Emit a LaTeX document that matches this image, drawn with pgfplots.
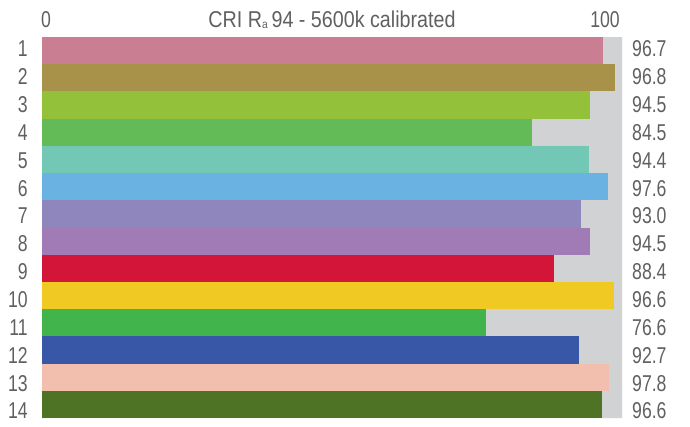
\documentclass[border=0pt]{standalone}
\usepackage{fontspec}
\setmainfont{Liberation Sans}[FakeStretch=0.86]
\newfontfamily\numfont{Liberation Sans}[FakeStretch=0.77]
\usepackage{pgfplots}
\pgfplotsset{compat=1.18}
\definecolor{txt}{HTML}{606060}
\definecolor{grayb}{HTML}{D1D2D4}
\definecolor{c1}{HTML}{C97F91}
\definecolor{c2}{HTML}{A8924A}
\definecolor{c3}{HTML}{93C23A}
\definecolor{c4}{HTML}{62BB56}
\definecolor{c5}{HTML}{72C8B4}
\definecolor{c6}{HTML}{6AB2E2}
\definecolor{c7}{HTML}{8F86BE}
\definecolor{c8}{HTML}{A17BB5}
\definecolor{c9}{HTML}{D4153A}
\definecolor{c10}{HTML}{F0CA22}
\definecolor{c11}{HTML}{41B54C}
\definecolor{c12}{HTML}{3857A7}
\definecolor{c13}{HTML}{F2BFAE}
\definecolor{c14}{HTML}{4E7324}
\begin{document}
\begin{tikzpicture}
\pgfplotsset{base/.style={width=580bp,height=381bp,scale only axis,
  xmin=0,xmax=100,ymin=0.5,ymax=14.5,y dir=reverse,
  axis line style={draw=none}, tick style={draw=none}, major tick length=0pt,
  xtick=\empty,
  ytick={0.941,1.964,2.988,4.011,5.035,6.058,7.081,8.105,9.128,10.152,11.175,12.198,13.222,14.245},
  ticklabel style={font=\numfont\fontsize{23}{23}\selectfont, text=txt, inner sep=0pt},
  /pgf/number format/assume math mode=true,
  xbar, bar width=1, enlargelimits=false, clip=false}}
\begin{axis}[base, yticklabel style={anchor=east, xshift=-14bp},
  yticklabels={1,2,3,4,5,6,7,8,9,10,11,12,13,14}]
\addplot[fill=grayb, draw=none, bar shift=0pt] coordinates {(100,1) (100,2) (100,3) (100,4) (100,5) (100,6) (100,7) (100,8) (100,9) (100,10) (100,11) (100,12) (100,13) (100,14)};
\node[anchor=base west, inner sep=0pt, text=txt, font=\numfont\fontsize{23}{23}\selectfont] at ([yshift=10bp,xshift=-1bp]axis cs:0,0.5) {0};
\node[anchor=base east, inner sep=0pt, text=txt, font=\numfont\fontsize{23}{23}\selectfont] at ([yshift=10bp,xshift=-2bp]axis cs:100,0.5) {100};
\node[anchor=base, inner sep=0pt, text=txt, font=\fontsize{23}{23}\selectfont] at ([yshift=10bp]axis cs:50,0.5) {CRI R\raisebox{-0.1ex}{\fontsize{12}{12}\selectfont a}\,94 - 5600k calibrated};
\end{axis}
\begin{axis}[base, yticklabel pos=right, yticklabel style={anchor=west, xshift=10bp},
  yticklabels={96.7,96.8,94.5,84.5,94.4,97.6,93.0,94.5,88.4,96.6,76.6,92.7,97.8,96.6}]
\addplot[fill=c1, draw=none, bar shift=0pt] coordinates {(96.7,1)};
\addplot[fill=c2, draw=none, bar shift=0pt] coordinates {(98.8,2)};
\addplot[fill=c3, draw=none, bar shift=0pt] coordinates {(94.5,3)};
\addplot[fill=c4, draw=none, bar shift=0pt] coordinates {(84.5,4)};
\addplot[fill=c5, draw=none, bar shift=0pt] coordinates {(94.3,5)};
\addplot[fill=c6, draw=none, bar shift=0pt] coordinates {(97.6,6)};
\addplot[fill=c7, draw=none, bar shift=0pt] coordinates {(92.9,7)};
\addplot[fill=c8, draw=none, bar shift=0pt] coordinates {(94.5,8)};
\addplot[fill=c9, draw=none, bar shift=0pt] coordinates {(88.3,9)};
\addplot[fill=c10, draw=none, bar shift=0pt] coordinates {(98.6,10)};
\addplot[fill=c11, draw=none, bar shift=0pt] coordinates {(76.6,11)};
\addplot[fill=c12, draw=none, bar shift=0pt] coordinates {(92.6,12)};
\addplot[fill=c13, draw=none, bar shift=0pt] coordinates {(97.8,13)};
\addplot[fill=c14, draw=none, bar shift=0pt] coordinates {(96.6,14)};
\end{axis}
\pgfresetboundingbox
\path ([xshift=-42bp,yshift=-9bp]current axis.south west) rectangle ([xshift=68bp,yshift=37bp]current axis.north east);
\end{tikzpicture}
\end{document}
